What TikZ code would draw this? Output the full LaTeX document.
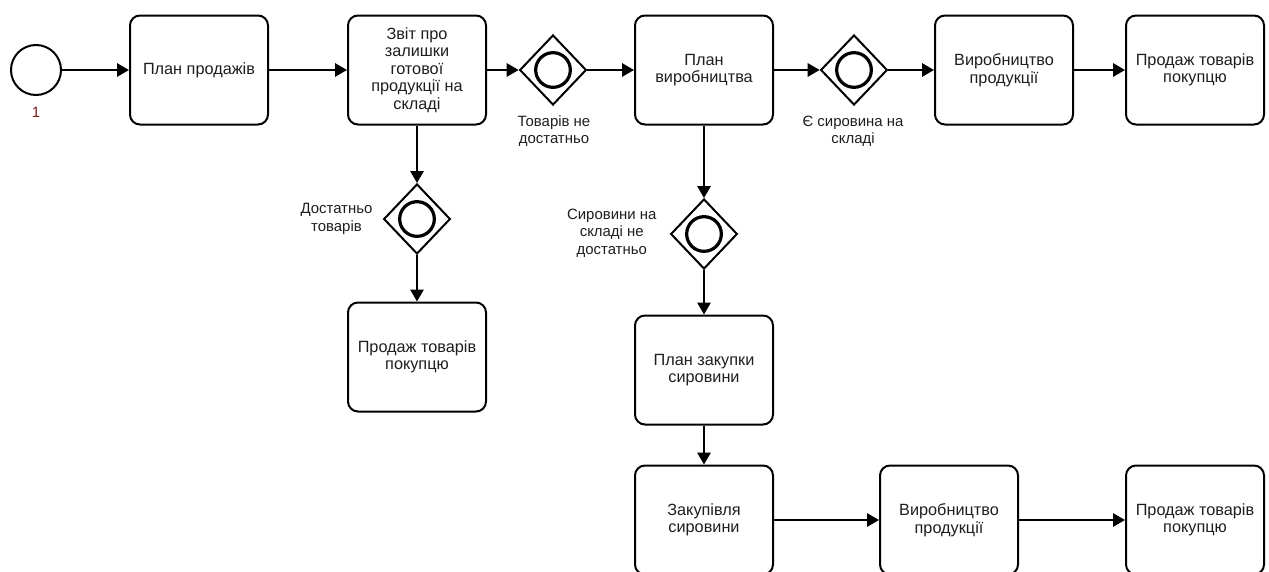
\documentclass[tikz,border=0pt]{standalone}
\usepackage{fontspec}
\setmainfont{Liberation Sans}
\usetikzlibrary{shapes.geometric,arrows.meta}
\definecolor{txt}{HTML}{1E1E1E}
\definecolor{startlbl}{HTML}{7A1E1E}
\begin{document}
\begin{tikzpicture}[x=0.75pt,y=-0.75pt,
  every node/.style={text=txt},
  task/.style={draw=black, line width=1.5pt, rounded corners=7.5pt, minimum width=103.5pt, minimum height=81.75pt, align=center, inner sep=2pt, font=\fontsize{12.2}{13.1}\selectfont},
  gw/.style={draw=black, line width=1.5pt, shape=diamond, minimum width=50pt, minimum height=52.5pt, inner sep=0pt},
  ring/.style={draw=black, line width=2.4pt},
  startev/.style={draw=black, line width=1.5pt, circle, minimum size=37.5pt, inner sep=0pt},
  lbl/.style={align=center, inner sep=1pt, font=\fontsize{11.2}{13}\selectfont},
  flow/.style={draw=black, line width=1.5pt, -{Triangle[length=9pt,width=10pt]}}
]
\useasboundingbox (0,0) rectangle (1269,571);
\clip (0,0) rectangle (1269,571);

% nodes
\node[startev] (s) at (36,70) {};
\node[text=startlbl, font=\fontsize{11.2}{13}\selectfont] (slbl) at (36,112) {1};
\node[task] (plan) at (199,70) {План продажів};
\node[task] (zvit) at (417,70) {Звіт про\\залишки\\готової\\продукції на\\складі};
\node[gw] (g1) at (553,70) {};
\node[task] (pv) at (704,70) {План\\виробництва};
\node[gw] (g2) at (854,70) {};
\node[task] (vyr1) at (1004,70) {Виробництво\\продукції};
\node[task] (pr1) at (1195,70) {Продаж товарів\\покупцю};
\node[gw] (g3) at (417,219) {};
\node[task] (pr2) at (417,357) {Продаж товарів\\покупцю};
\node[gw] (g4) at (704,234) {};
\node[task] (pz) at (704,370) {План закупки\\сировини};
\node[task] (zak) at (704,520) {Закупівля\\сировини};
\node[task] (vyr2) at (949,520) {Виробництво\\продукції};
\node[task] (pr3) at (1195,520) {Продаж товарів\\покупцю};

% gateway rings
\foreach \g in {g1,g2,g3,g4} \draw[ring] (\g.center) circle[radius=13pt];

% labels
\node[lbl] (l1) at (554,131) {Товарів не\\достатньо};
\node[lbl] (l2) at (853,131) {Є сировина на\\складі};
\node[lbl, anchor=east] (l3) at (374,219) {Достатньо\\товарів};
\node[lbl, anchor=east] (l4) at (658,233) {Сировини на\\складі не\\достатньо};

% flows
\draw[flow] (s) -- (plan);
\draw[flow] (plan) -- (zvit);
\draw[flow] (zvit) -- (g1);
\draw[flow] (g1) -- (pv);
\draw[flow] (pv) -- (g2);
\draw[flow] (g2) -- (vyr1);
\draw[flow] (vyr1) -- (pr1);
\draw[flow] (zvit) -- (g3);
\draw[flow] (g3) -- (pr2);
\draw[flow] (pv) -- (g4);
\draw[flow] (g4) -- (pz);
\draw[flow] (pz) -- (zak);
\draw[flow] (zak) -- (vyr2);
\draw[flow] (vyr2) -- (pr3);
\end{tikzpicture}
\end{document}
